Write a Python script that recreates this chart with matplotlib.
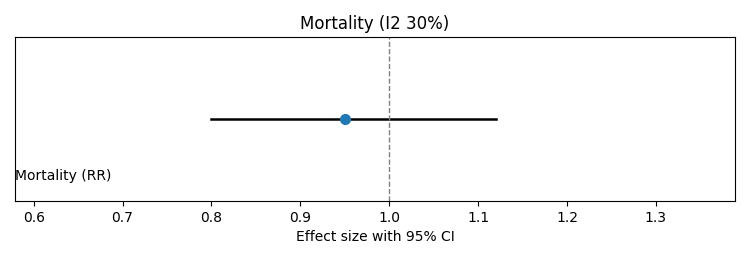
import matplotlib
matplotlib.use("Agg")
import matplotlib.pyplot as plt

# Data
outcome = "Mortality (RR)"
effect = 0.95
ci_low = 0.80
ci_high = 1.12
i2 = 30

fig, ax = plt.subplots(figsize=(7.5, 2.6), dpi=100)

# CI line and point estimate
ax.plot([ci_low, ci_high], [0, 0], color='black', linewidth=1.8)
ax.plot(effect, 0, 'o', color='tab:blue', markersize=7)

# null line
ax.axvline(1.0, color='gray', linestyle='--', linewidth=1)

ax.set_xlim(0.579, 1.389)
ax.set_ylim(-1, 1)
ax.set_yticks([])
ax.text(0.579, -0.7, outcome, ha='left', va='center', fontsize=10)

ax.set_title(f'Mortality (I2 {i2}%)', fontsize=12)
ax.set_xlabel('Effect size with 95% CI', fontsize=10)

fig.subplots_adjust(left=0.02, right=0.98, top=0.858, bottom=0.227)
fig.savefig('out.png')
